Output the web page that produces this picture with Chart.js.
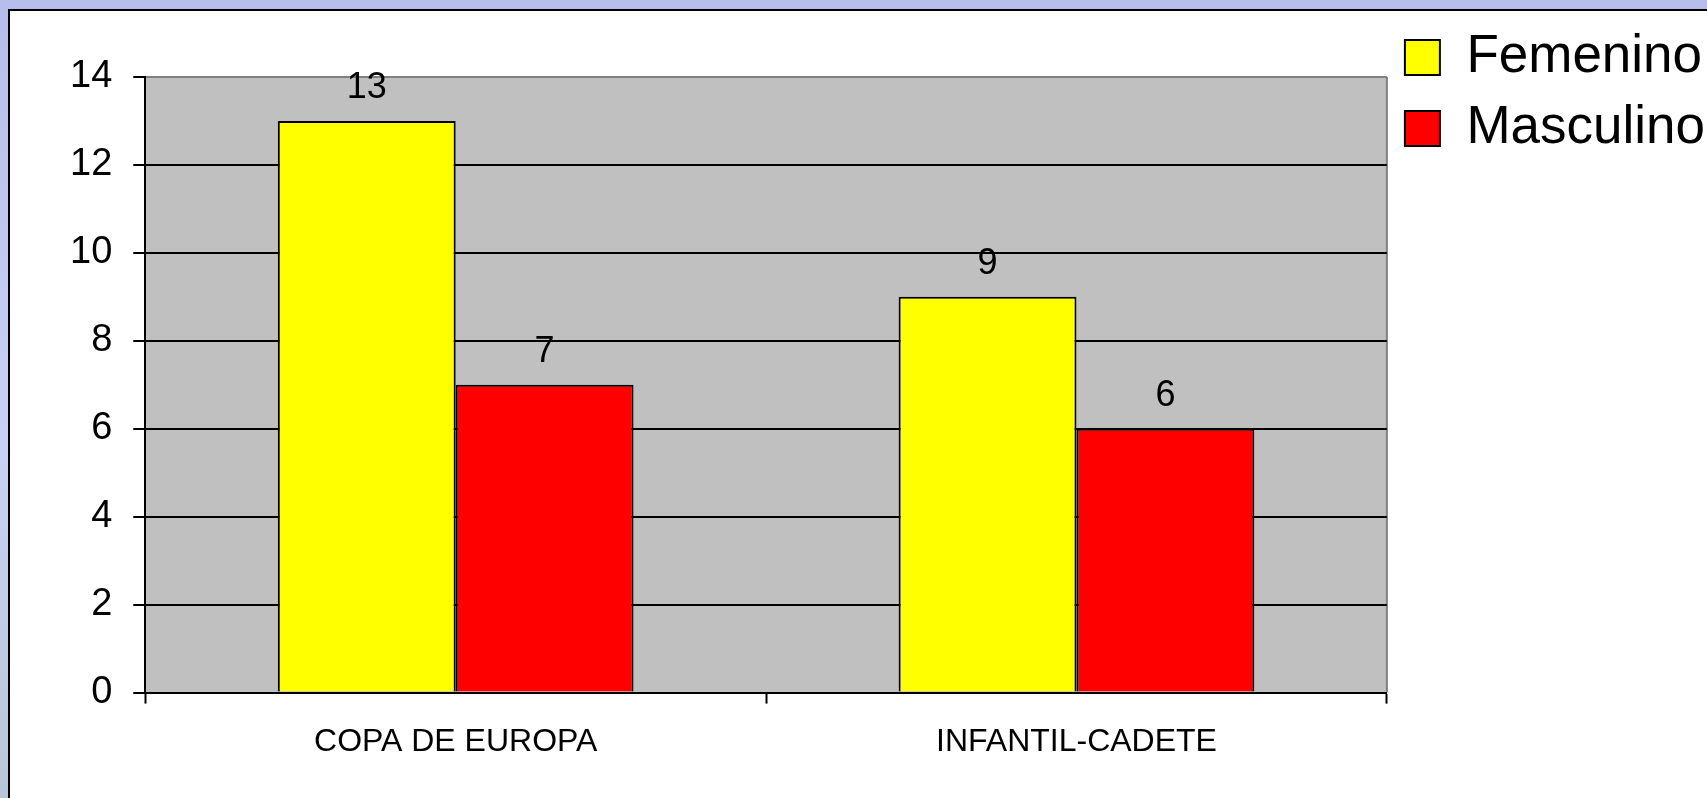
<!DOCTYPE html>
<html>
<head>
<meta charset="utf-8">
<script src="https://cdn.jsdelivr.net/npm/chart.js@4"></script>
<style>
    html, body { margin: 0; padding: 0; overflow: hidden; }
    body {
        width: 1707px; height: 798px; position: relative;
        background: linear-gradient(to bottom, #b6bdea 0%, #c8d1f4 55%, #b9c6d8 100%);
    }
    #frame {
        position: absolute; left: 8px; top: 9px; width: 1720px; height: 810px;
        background: #fff; border: 2px solid #000;
    }
    #chart { position: absolute; left: 0; top: 0; }
</style>
</head>
<body>
<div id="frame"></div>
<canvas id="chart" width="1707" height="798"></canvas>
<script>
const categories = ['COPA DE EUROPA', 'INFANTIL-CADETE']
const femenino = [13, 9]
const masculino = [7, 6]
const yMax = 14
const yStep = 2

const font = '"Liberation Sans", Arial, sans-serif'

// grey plot area with its grey right border, like the old Excel charts
const plotArea = {
    id: 'plotArea',
    beforeDraw(chart) {
        const { ctx, chartArea: a } = chart
        ctx.save()
        ctx.fillStyle = '#c0c0c0'
        ctx.fillRect(a.left, a.top, a.right - a.left, a.bottom - a.top)
        ctx.strokeStyle = '#808080'
        ctx.lineWidth = 2
        ctx.beginPath()
        ctx.moveTo(a.right, a.top)
        ctx.lineTo(a.right, a.bottom)
        ctx.stroke()
        ctx.restore()
    }
}

// value above each bar
const barValues = {
    id: 'barValues',
    afterDatasetsDraw(chart) {
        const ctx = chart.ctx
        ctx.save()
        ctx.font = '36px ' + font
        ctx.fillStyle = '#000'
        ctx.textAlign = 'center'
        ctx.textBaseline = 'middle'
        chart.data.datasets.forEach((ds, i) => {
            chart.getDatasetMeta(i).data.forEach((bar, j) => {
                ctx.fillText(ds.data[j], bar.x, bar.y - 33)
            })
        })
        ctx.restore()
    }
}

const chart = new Chart(document.getElementById('chart'), {
    type: 'bar',
    data: {
        labels: categories,
        datasets: [
            { label: 'Femenino', data: femenino, backgroundColor: '#ffff00', borderColor: '#000', borderWidth: 2 },
            { label: 'Masculino', data: masculino, backgroundColor: '#ff0000', borderColor: '#000', borderWidth: 2 }
        ]
    },
    options: {
        responsive: false,
        animation: false,
        layout: { padding: { left: 49, top: 13, right: -8, bottom: 18 } },
        datasets: { bar: { categoryPercentage: 0.573, barPercentage: 1 } },
        plugins: {
            legend: {
                position: 'right',
                align: 'start',
                labels: {
                    color: '#000',
                    font: { family: font, size: 53 },
                    boxWidth: 35,
                    boxHeight: 35,
                    padding: 18
                }
            },
            tooltip: { enabled: false }
        },
        scales: {
            x: {
                grid: { drawOnChartArea: false, tickLength: 11, tickColor: '#000', tickWidth: 2 },
                border: { color: '#000', width: 2 },
                ticks: { color: '#000', font: { family: font, size: 32 }, padding: 19 }
            },
            y: {
                min: 0,
                max: yMax,
                afterFit: s => { s.paddingTop = 77 },
                grid: {
                    color: c => c.tick && c.tick.value === yMax ? '#808080' : '#000',
                    lineWidth: 2,
                    tickLength: 12,
                    tickColor: '#000'
                },
                border: { color: '#000', width: 2 },
                ticks: { stepSize: yStep, color: '#000', font: { family: font, size: 38 }, padding: 21 }
            }
        }
    },
    plugins: [plotArea, barValues]
})
</script>
</body>
</html>
